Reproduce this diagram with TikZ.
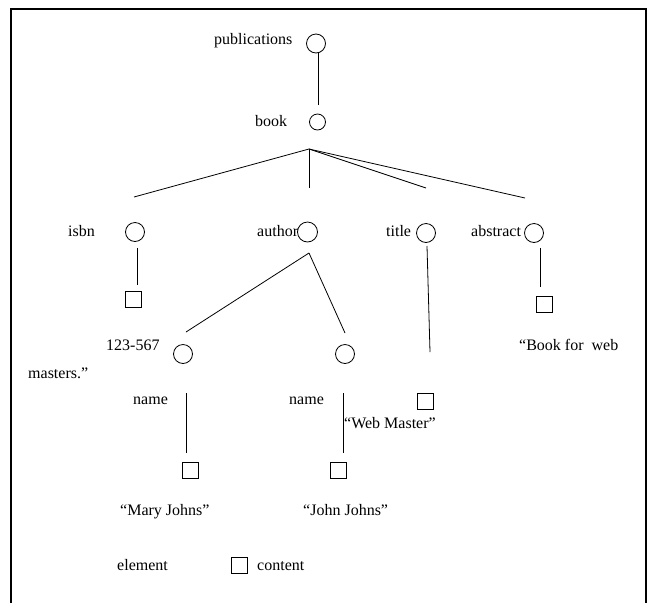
\documentclass[tikz,border=0pt]{standalone}
\usepackage{fontspec}
\setmainfont{Liberation Serif}
\begin{document}
\begin{tikzpicture}[x=1pt,y=-1pt,
  lbl/.style={inner sep=0pt,font=\fontsize{16}{19}\selectfont},
  elem/.style={draw,circle,inner sep=0pt,minimum size=19pt,line width=0.8pt},
  cont/.style={draw,rectangle,inner sep=0pt,minimum size=16pt,line width=0.8pt},
  link/.style={line width=0.8pt},
  frame/.style={line width=1.6pt}]
\useasboundingbox (0,0) rectangle (650,603);
% frame
\coordinate (fbl) at (11,603);
\coordinate (ftl) at (11,9);
\coordinate (ftr) at (646,9);
\coordinate (fbr) at (646,603);
\draw[frame] (fbl) -- (ftl) -- (ftr) -- (fbr);

% element circles
\node[elem] (cpub) at (316,43.5) {};
\node[elem,minimum size=16pt] (cbook) at (317.5,122) {};
\node[elem] (cisbn) at (135,232) {};
\node[elem,minimum size=20pt] (cauthor) at (307.5,232) {};
\node[elem] (ctitle) at (426,233) {};
\node[elem] (cabstract) at (534,233) {};
\node[elem] (cname1) at (183,354) {};
\node[elem] (cname2) at (345,354) {};

% content squares
\node[cont] (sisbn) at (133.5,299) {};
\node[cont] (sabstract) at (544,304) {};
\node[cont] (stitle) at (425,401) {};
\node[cont] (sname1) at (190,470) {};
\node[cont] (sname2) at (338,470) {};
\node[cont] (slegend) at (239,565) {};

% labels
\node[lbl,anchor=base west] (tpub) at (214,44) {publications};
\node[lbl,anchor=base west] (tbook) at (255,126) {book};
\node[lbl,anchor=base east] (tisbn) at (95,236) {isbn};
\node[lbl,anchor=base west] (tauthor) at (257,236) {author};
\node[lbl,anchor=base west] (ttitle) at (386,236) {title};
\node[lbl,anchor=base west] (tabstract) at (471,236) {abstract};
\node[lbl,anchor=base west] (tisbnval) at (106,350) {123-567};
\node[lbl,anchor=base west] (tmasters) at (28,378) {masters.”};
\node[lbl,anchor=base west] (tname1) at (133,404) {name};
\node[lbl,anchor=base west] (tname2) at (289,404) {name};
\node[lbl,anchor=base west] (tweb) at (344,428) {“Web Master”};
\node[lbl,anchor=base west] (tbook2) at (519,350) {“Book for\ \ web};
\node[lbl,anchor=base west] (tmary) at (120,515) {“Mary Johns”};
\node[lbl,anchor=base west] (tjohn) at (303,515) {“John Johns”};
\node[lbl,anchor=base west] (telement) at (117,570) {element};
\node[lbl,anchor=base west] (tcontent) at (257,570) {content};

% connector end points
\coordinate (pubA) at (318,53);
\coordinate (pubB) at (318,105);
\coordinate (fan) at (309,149);
\coordinate (fanisbn) at (134,197);
\coordinate (fanauthor) at (309,188);
\coordinate (fantitle) at (426,188);
\coordinate (fanabstract) at (525,198);
\coordinate (isbnA) at (137.5,248);
\coordinate (isbnB) at (137.5,285);
\coordinate (auth) at (309,253);
\coordinate (authL) at (186,332);
\coordinate (authR) at (345,333);
\coordinate (titleA) at (427,246);
\coordinate (titleB) at (430,352);
\coordinate (absA) at (540,248);
\coordinate (absB) at (540,287);
\coordinate (n1A) at (186,393);
\coordinate (n1B) at (186,453);
\coordinate (n2A) at (343,393);
\coordinate (n2B) at (343,453);

\draw[link] (pubA) -- (pubB);
\draw[link] (fan) -- (fanisbn);
\draw[link] (fan) -- (fanauthor);
\draw[link] (fan) -- (fantitle);
\draw[link] (fan) -- (fanabstract);
\draw[link] (isbnA) -- (isbnB);
\draw[link] (auth) -- (authL);
\draw[link] (auth) -- (authR);
\draw[link] (titleA) -- (titleB);
\draw[link] (absA) -- (absB);
\draw[link] (n1A) -- (n1B);
\draw[link] (n2A) -- (n2B);
\end{tikzpicture}
\end{document}
